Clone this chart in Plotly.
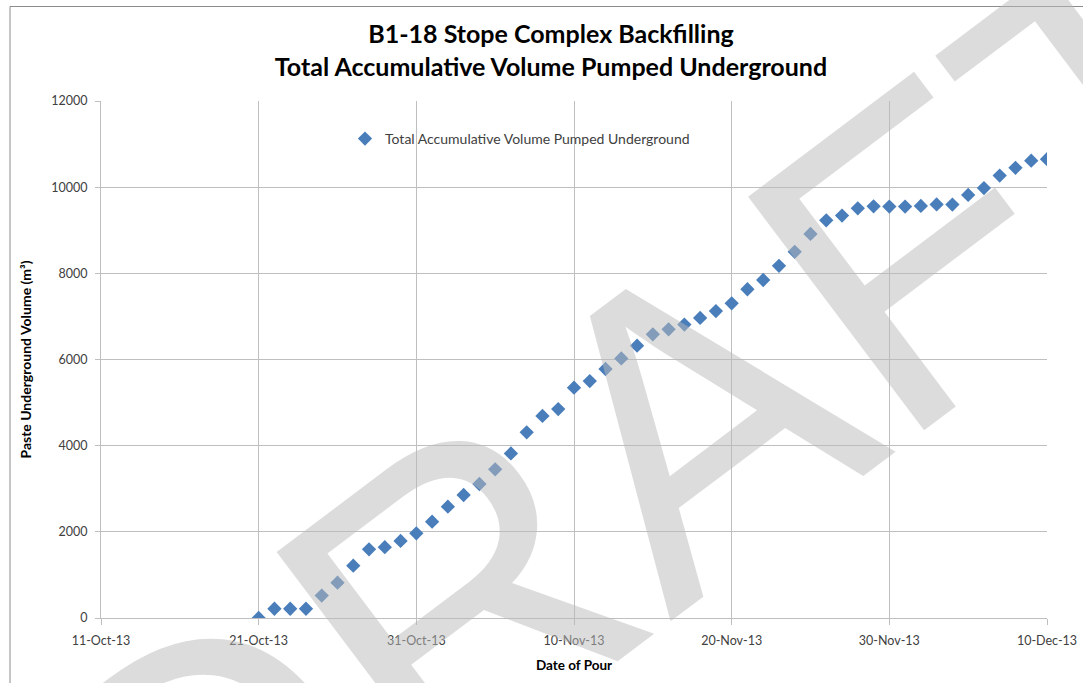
import pandas as pd
import plotly.graph_objects as go

# ---- data ----
pour_dates = pd.date_range("2013-10-21", "2013-12-10", freq="D")
volume_m3 = [
    0, 215, 215, 215, 520, 820, 1215, 1595, 1645, 1790,
    1965, 2235, 2585, 2855, 3110, 3450, 3820, 4310, 4690, 4850,
    5345, 5500, 5780, 6025, 6320, 6585, 6700, 6810, 6965, 7125,
    7305, 7630, 7845, 8175, 8500, 8915, 9230, 9340, 9510, 9555,
    9550, 9550, 9565, 9600, 9595, 9820, 9980, 10270, 10450, 10615,
    10650,
]
series_name = "Total Accumulative Volume Pumped Underground"
title_lines = ["B1-18 Stope Complex Backfilling", "Total Accumulative Volume Pumped Underground"]
x_title = "Date of Pour"
y_title = "Paste Underground Volume (m³)"
x_range = ["2013-10-11", "2013-12-10"]
y_ticks = [0, 2000, 4000, 6000, 8000, 10000, 12000]
watermark = "DRAFT"

FONT = "Lato"
W, H = 1083, 683
ML, MR, MT, MB = 101, 36, 101, 65
PW, PH = W - ML - MR, H - MT - MB


def px_x(p):
    return (p - ML) / PW


def px_y(p):
    return (H - MB - p) / PH


fig = go.Figure()
fig.add_trace(go.Scatter(
    x=pour_dates, y=volume_m3, mode="markers", name=series_name,
    marker=dict(symbol="diamond", size=11, color="#4a7ebb", line=dict(width=0)),
    showlegend=True,
))

grid = "#bfbfbf"
fig.update_layout(
    width=W, height=H,
    margin=dict(l=ML, r=MR, t=MT, b=MB, pad=0, autoexpand=False),
    paper_bgcolor="white", plot_bgcolor="white",
    title=dict(
        text="<br>".join(title_lines),
        font=dict(family=FONT, size=25, color="#000000", weight="bold"),
        x=551 / W, xref="container", xanchor="center",
        y=1 - 43 / H, yref="container", yanchor="middle",
    ),
    font=dict(family=FONT, size=12, color="#404040"),
    showlegend=True,
    legend=dict(
        x=px_x(345), xanchor="left", y=px_y(139), yanchor="middle",
        bgcolor="rgba(0,0,0,0)", borderwidth=0,
        font=dict(family=FONT, size=14, color="#404040"),
        itemwidth=30,
    ),
    xaxis=dict(
        type="date", range=x_range, tick0="2013-10-11", dtick=10 * 86400000,
        tickformat="%d-%b-%y", showgrid=True, gridcolor=grid, gridwidth=1,
        showline=True, linecolor=grid, linewidth=1,
        ticks="outside", ticklen=6, tickcolor=grid, ticklabelstandoff=5,
        tickfont=dict(family=FONT, size=12.5, color="#404040"),
        title=dict(text=x_title, font=dict(family=FONT, size=13.5, color="#000000", weight="bold"), standoff=13),
        zeroline=False, automargin=False,
    ),
    yaxis=dict(
        range=[0, 12000], tickvals=y_ticks, tickformat="d", showgrid=True, gridcolor=grid, gridwidth=1,
        showline=True, linecolor=grid, linewidth=1,
        ticks="outside", ticklen=5, tickcolor=grid, ticklabelstandoff=5,
        tickfont=dict(family=FONT, size=12.5, color="#404040"),
        title=dict(text=y_title, font=dict(family=FONT, size=14, color="#000000", weight="bold"), standoff=16),
        zeroline=False, automargin=False,
    ),
)

# chart-area border (top and left visible, rest cut off by the image)
fig.add_shape(type="rect", xref="paper", yref="paper",
              x0=px_x(10), x1=px_x(1140), y0=px_y(760), y1=px_y(6.5),
              line=dict(color="#8c8c8c", width=1), fillcolor="rgba(0,0,0,0)", layer="below")

# DRAFT watermark over the chart
fig.add_annotation(
    text=watermark, xref="paper", yref="paper",
    x=px_x(656), y=px_y(447), xanchor="center", yanchor="middle",
    showarrow=False, textangle=-37,
    font=dict(family="Liberation Sans", size=425, color="rgba(185,185,185,0.5)"),
)

fig.write_html("out.html")
